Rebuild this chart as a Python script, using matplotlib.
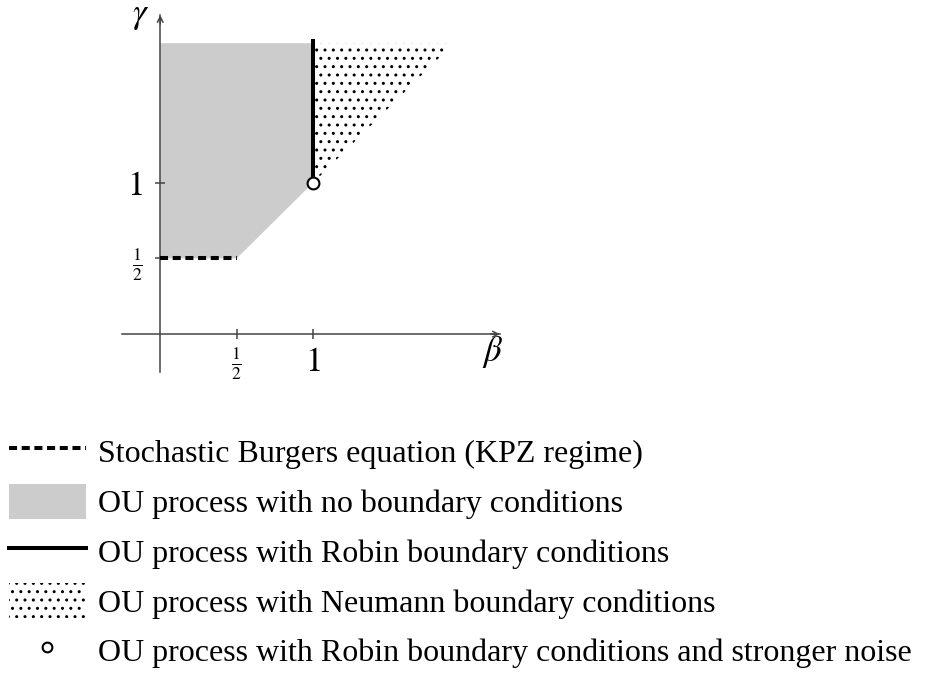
import matplotlib
matplotlib.use('Agg')
import matplotlib.pyplot as plt
from matplotlib.patches import Polygon, Patch
from matplotlib.lines import Line2D

plt.rcParams['font.family'] = ['Liberation Serif', 'DejaVu Serif']
plt.rcParams['mathtext.fontset'] = 'stix'
plt.rcParams['hatch.linewidth'] = 1.0
plt.rcParams['hatch.color'] = 'black'

# ---- data ----
kpz_beta = [0.0, 0.5]
kpz_gamma = [0.5, 0.5]
free_beta = [0.0, 0.5, 1.0, 1.0, 0.0]
free_gamma = [0.5, 0.5, 1.0, 1.92, 1.92]
robin_beta = [1.0, 1.0]
robin_gamma = [1.0, 1.95]
neumann_beta = [1.0, 1.0, 1.92]
neumann_gamma = [1.0, 1.92, 1.92]
strong_beta = [1.0]
strong_gamma = [1.0]
x_ticks = [0.5, 1.0]
x_ticklabels = [r'$\frac{1}{2}$', r'$1$']
y_ticks = [0.5, 1.0]
y_ticklabels = [r'$\frac{1}{2}$', r'$1$']
legend_labels = [
    'Stochastic Burgers equation (KPZ regime)',
    'OU process with no boundary conditions',
    'OU process with Robin boundary conditions',
    'OU process with Neumann boundary conditions',
    'OU process with Robin boundary conditions and stronger noise',
]

W, H = 941, 692
fig = plt.figure(figsize=(W / 100, H / 100), dpi=100)
ax = fig.add_axes([0.1296, 0.4624, 0.4017, 0.5159])
xmin, xmax = -0.25, 2.22
ymin, ymax = -0.25, 2.106
ax.set_xlim(xmin, xmax)
ax.set_ylim(ymin, ymax)

axis_color = '#444444'
for s in ['top', 'right']:
    ax.spines[s].set_visible(False)
for s in ['left', 'bottom']:
    ax.spines[s].set_position(('data', 0))
    ax.spines[s].set_color(axis_color)
    ax.spines[s].set_linewidth(1.1)

ax.annotate('', xy=(xmax, 0), xytext=(xmax - 0.06, 0),
            arrowprops=dict(arrowstyle='->', color=axis_color, lw=1.1,
                            shrinkA=0, shrinkB=0), annotation_clip=False)
ax.annotate('', xy=(0, ymax), xytext=(0, ymax - 0.06),
            arrowprops=dict(arrowstyle='->', color=axis_color, lw=1.1,
                            shrinkA=0, shrinkB=0), annotation_clip=False)

ax.set_xticks(x_ticks)
ax.set_xticklabels(x_ticklabels)
ax.set_yticks(y_ticks)
ax.set_yticklabels(y_ticklabels)
ax.tick_params(direction='inout', length=7, width=1.1, color=axis_color)
ax.tick_params(axis='x', pad=5)
ax.tick_params(axis='y', pad=9)
for lab in ax.get_xticklabels() + ax.get_yticklabels():
    lab.set_fontsize(25 if lab.get_text() == r'$1$' else 18)

ax.text(xmax - 0.05, -0.12, r'$\beta$', fontsize=25, ha='center', va='center')
ax.text(-0.13, ymax - 0.005, r'$\gamma$', fontsize=25, ha='center', va='center')

gray = '#cccccc'
ax.add_patch(Polygon(list(zip(free_beta, free_gamma)), closed=True,
                     facecolor=gray, edgecolor='none', zorder=1))
ax.add_patch(Polygon(list(zip(neumann_beta, neumann_gamma)), closed=True,
                     facecolor='none', edgecolor='black', hatch='..',
                     linewidth=0, zorder=1))
ax.plot(kpz_beta, kpz_gamma, color='black', lw=2.9,
        linestyle=(0, (2.0, 1.15)), solid_capstyle='butt', zorder=3)
ax.plot(robin_beta, robin_gamma, color='black', lw=2.9,
        solid_capstyle='butt', zorder=3)
ax.plot(strong_beta, strong_gamma, 'o', markersize=8.5, markerfacecolor='white',
        markeredgecolor='black', markeredgewidth=1.5, zorder=4)

handles = [
    Line2D([], [], color='black', lw=2.9, linestyle=(0, (2.0, 1.15))),
    Patch(facecolor=gray, edgecolor='none'),
    Line2D([], [], color='black', lw=2.9),
    Patch(facecolor='none', edgecolor='black', hatch='..', linewidth=0),
    Line2D([], [], linestyle='none', marker='o', markersize=7,
           markerfacecolor='white', markeredgecolor='black', markeredgewidth=1.5),
]
fig.legend(handles, legend_labels, loc='upper left',
           bbox_to_anchor=(9 / W, 1 - 434 / H), frameon=False,
           fontsize=23.0, handlelength=2.4, handleheight=1.3,
           handletextpad=0.4, labelspacing=0.46, borderpad=0, borderaxespad=0)

fig.savefig('out.png', dpi=100)
